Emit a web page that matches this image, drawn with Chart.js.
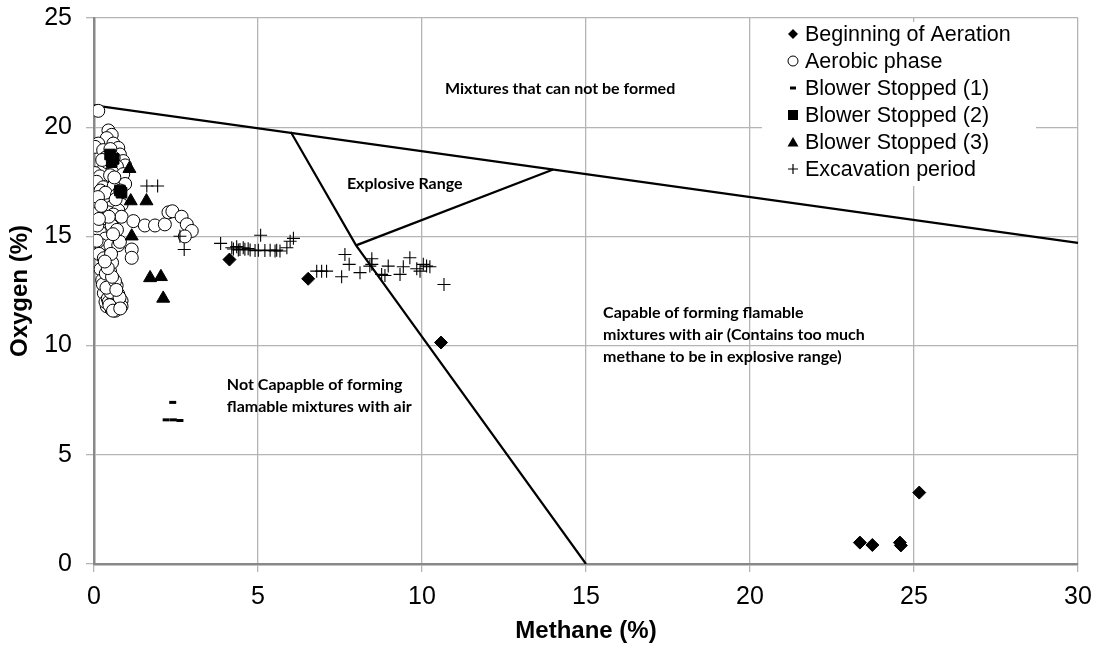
<!DOCTYPE html>
<html lang="en">
<head>
<meta charset="UTF-8">
<title>Oxygen vs Methane</title>
<script src="https://cdn.jsdelivr.net/npm/chart.js"></script>
<style>
  html, body { margin: 0; padding: 0; background: #fff; }
  #wrap { width: 1094px; height: 647px; }
</style>
</head>
<body>
<div id="wrap"><canvas id="c" width="1094" height="647"></canvas></div>
<script>
// ---- data (methane %, oxygen %) ----
const seriesNames = ['Beginning of Aeration', 'Aerobic phase', 'Blower Stopped (1)',
                     'Blower Stopped (2)', 'Blower Stopped (3)', 'Excavation period'];

const aerationX = [4.13, 6.53, 10.58, 23.35, 23.73, 24.57, 24.6, 25.16];
const aerationY = [13.94, 13.06, 10.14, 0.98, 0.87, 0.98, 0.85, 3.27];

const aerobicX = [0.13,
  0.44, 0.54, 0.39, 0.13, 0.03, 0.28, 0.59, 0.74, 0.79, 0.89, 0.95, 0.5, 0.35, 0.6, 0.45, 0.7, 0.3, 0.55,
  0.03, 0.18, 0.08, 0.28, 0.13, 0.49, 0.69, 0.89, 0.95, 0.39, 0.08, 0.54, 0.84, 0.74, 0.2, 0.6, 0.35, 0.7, 0.05,
  0.13, 0.44, 0.59, 0.23, 0.54, 0.18, 0.34, 0.23, 0.39, 0.28, 0.44, 0.34, 0.49, 0.34, 0.59, 0.39, 0.69, 0.44,
  0.74, 0.49, 0.84, 0.59, 0.39, 0.74, 0.54, 0.84, 0.1, 0.08, 0.15, 0.2, 0.25, 0.3, 0.35, 0.65, 0.5, 0.55, 0.6,
  0.84, 1.2, 1.55, 1.86, 2.16, 2.27, 2.39, 2.67, 2.83, 2.98, 2.77,
  0.74, 1.15, 1.15, 0.79,
  0.62, 0.8, 0.4, 0.25, 0.66, 0.45, 0.15, 0.7, 0.58, 0.3, 0.48, 0.62, 0.42, 0.27, 0.56, 0.68, 0.36, 0.52,
  0.45, 0.6, 0.72, 0.5, 0.38, 0.64, 0.78, 0.55, 0.42, 0.68, 0.33, 0.47, 0.58, 0.8, 0.12, 0.22];
const aerobicY = [20.75,
  19.85, 19.65, 19.5, 19.25, 19.1, 18.95, 19.25, 19.05, 18.75, 18.45, 18.25, 19.0, 18.6, 18.6, 18.3, 18.2, 18.1, 17.95,
  17.9, 17.75, 17.5, 17.25, 16.95, 17.8, 17.6, 17.85, 17.4, 16.65, 16.5, 16.35, 16.45, 16.2, 17.1, 17.3, 17.0, 16.9, 16.2,
  16.55, 16.1, 16.0, 15.8, 15.5, 15.2, 14.9, 14.6, 14.35, 14.1, 13.9, 13.65, 13.4, 13.2, 13.05, 12.9, 12.75, 12.6,
  12.35, 12.2, 12.05, 11.9, 11.8, 11.75, 11.65, 11.8, 15.5, 14.8, 14.2, 13.5, 13.0, 12.4, 12.0, 11.6, 14.6, 13.8, 12.5,
  15.9, 15.7, 15.5, 15.5, 15.55, 16.1, 16.15, 15.9, 15.55, 15.25, 15.0,
  14.6, 14.4, 14.02, 14.75,
  17.7, 17.1, 18.4, 18.5, 16.7, 15.9, 15.8, 15.3, 15.1, 14.0, 13.1, 12.25, 12.15, 12.8, 11.7, 11.95, 13.3, 14.2,
  12.0, 12.1, 11.9, 12.45, 12.65, 12.95, 12.2, 13.15, 13.55, 12.55, 13.85, 11.85, 11.6, 11.7, 16.8, 16.4];

const blower1X = [2.4, 2.2, 2.42, 2.62];
const blower1Y = [7.4, 6.6, 6.6, 6.57];

const blower2X = [0.49, 0.54, 0.6, 0.79, 0.84];
const blower2Y = [18.75, 18.4, 18.55, 17.1, 17.0];

const blower3X = [1.08, 1.12, 1.6, 1.15, 1.71, 2.04, 2.11];
const blower3Y = [18.1, 16.62, 16.62, 15.01, 13.1, 13.15, 12.16];

const excavX = [1.61, 1.94, 2.62, 2.75,
  3.86, 4.2, 4.35, 4.45, 4.55, 4.7, 5.08, 5.01, 5.37, 5.57, 5.67, 5.88, 5.98, 6.08,
  4.25, 4.4, 4.6, 4.76, 4.91, 5.21, 5.52,
  6.79, 6.94, 7.09, 7.55, 7.65, 7.78, 8.11, 8.47, 8.47, 8.41, 8.77, 8.97, 8.87,
  9.33, 9.43, 9.63, 9.84, 9.94, 10.04, 10.14, 10.24, 10.67];
const excavY = [17.31, 17.31, 15.01, 14.4,
  14.68, 14.48, 14.53, 14.4, 14.48, 14.44, 15.05, 14.37, 14.37, 14.37, 14.33, 14.48, 14.78, 14.91,
  14.42, 14.38, 14.41, 14.38, 14.35, 14.35, 14.33,
  13.41, 13.41, 13.41, 13.15, 14.17, 13.72, 13.34, 13.98, 13.72, 13.64, 13.26, 13.64, 13.21,
  13.26, 13.61, 14.02, 13.52, 13.41, 13.72, 13.64, 13.61, 12.8];

// boundary lines of the flammability diagram
const airLineX = [0, 30];
const airLineY = [21, 14.7];
const lowerLimitX = [6.0, 7.99, 15];
const lowerLimitY = [19.78, 14.59, 0];
const upperLimitX = [7.99, 14];
const upperLimitY = [14.59, 18.06];

const xTicks = [0, 5, 10, 15, 20, 25, 30];
const yTicks = [0, 5, 10, 15, 20, 25];

// region labels: [x, y, text lines]
const notes = [
  [10.7, 21.74, ['Mixtures that can not be formed']],
  [7.71, 17.4, ['Explosive Range']],
  [15.52, 11.5, ['Capable of forming flamable', 'mixtures with air (Contains too much', 'methane to be in explosive range)']],
  [4.05, 8.2, ['Not Capapble of forming', 'flamable mixtures with air']]
];

function pts(xs, ys) {
  return xs.map((x, i) => ({ x: x, y: ys[i] }));
}

const SANS = "'Liberation Sans', Arial, sans-serif";

// legend drawn inside the plot, with its own white box
const legendPlugin = {
  id: 'boxLegend',
  afterDraw(chart) {
    const ctx = chart.ctx;
    ctx.save();
    ctx.fillStyle = '#fff';
    ctx.fillRect(762, 22, 274, 164);
    ctx.font = '21.5px ' + SANS;
    ctx.textBaseline = 'middle';
    ctx.fillStyle = '#000';
    ctx.strokeStyle = '#000';
    seriesNames.forEach((name, i) => {
      const y = 34 + i * 27;
      const mx = 793;
      ctx.beginPath();
      if (i === 0) {
        ctx.moveTo(mx, y - 5); ctx.lineTo(mx + 5, y); ctx.lineTo(mx, y + 5); ctx.lineTo(mx - 5, y);
        ctx.closePath(); ctx.fill();
      } else if (i === 1) {
        ctx.lineWidth = 1;
        ctx.arc(mx, y, 5, 0, Math.PI * 2); ctx.stroke();
      } else if (i === 2) {
        ctx.fillRect(mx - 3, y - 1.5, 6, 3);
      } else if (i === 3) {
        ctx.fillRect(mx - 5, y - 5, 10, 10);
      } else if (i === 4) {
        ctx.moveTo(mx, y - 5); ctx.lineTo(mx + 5.5, y + 4.5); ctx.lineTo(mx - 5.5, y + 4.5);
        ctx.closePath(); ctx.fill();
      } else {
        ctx.lineWidth = 1.2;
        ctx.moveTo(mx - 5, y); ctx.lineTo(mx + 5, y);
        ctx.moveTo(mx, y - 5); ctx.lineTo(mx, y + 5); ctx.stroke();
      }
      ctx.fillText(name, 805, y + 1);
    });
    ctx.restore();
  }
};

const notesPlugin = {
  id: 'regionNotes',
  afterDatasetsDraw(chart) {
    const ctx = chart.ctx;
    const xs = chart.scales.x, ys = chart.scales.y;
    ctx.save();
    ctx.font = "bold 16px Lato, 'Open Sans', sans-serif";
    ctx.fillStyle = '#000';
    ctx.textBaseline = 'middle';
    notes.forEach(n => {
      const px = xs.getPixelForValue(n[0]);
      const py = ys.getPixelForValue(n[1]);
      n[2].forEach((line, j) => ctx.fillText(line, px, py + j * 22));
    });
    ctx.restore();
  }
};

const lineStyle = { showLine: true, borderColor: '#000', borderWidth: 2.2, pointRadius: 0, fill: false, order: 10 };

new Chart(document.getElementById('c'), {
  type: 'scatter',
  data: {
    datasets: [
      { label: seriesNames[0], data: pts(aerationX, aerationY), pointStyle: 'rectRot', radius: 6.5,
        backgroundColor: '#000', borderColor: '#000', borderWidth: 1, order: 1 },
      { label: seriesNames[1], data: pts(aerobicX, aerobicY), pointStyle: 'circle', radius: 6.5,
        backgroundColor: '#fff', borderColor: '#000', borderWidth: 1, order: 5 },
      { label: seriesNames[2], data: pts(blower1X, blower1Y), pointStyle: 'line', radius: 3.5,
        borderColor: '#000', borderWidth: 3, order: 2 },
      { label: seriesNames[3], data: pts(blower2X, blower2Y), pointStyle: 'rect', radius: 7.5,
        backgroundColor: '#000', borderColor: '#000', borderWidth: 1, order: 2 },
      { label: seriesNames[4], data: pts(blower3X, blower3Y), pointStyle: 'triangle', radius: 7.5,
        backgroundColor: '#000', borderColor: '#000', borderWidth: 1, order: 2 },
      { label: seriesNames[5], data: pts(excavX, excavY), pointStyle: 'cross', radius: 6.5,
        borderColor: '#000', borderWidth: 1.1, order: 3 },
      Object.assign({ label: 'air', data: pts(airLineX, airLineY) }, lineStyle),
      Object.assign({ label: 'lower', data: pts(lowerLimitX, lowerLimitY) }, lineStyle),
      Object.assign({ label: 'upper', data: pts(upperLimitX, upperLimitY) }, lineStyle)
    ]
  },
  options: {
    responsive: false,
    animation: false,
    layout: { padding: { top: 18, right: 16, left: 0, bottom: 0 } },
    plugins: { legend: { display: false }, tooltip: { enabled: false } },
    scales: {
      x: {
        type: 'linear', min: 0, max: 30,
        afterBuildTicks: s => { s.ticks = xTicks.map(v => ({ value: v })); },
        afterFit: s => { s.height = 83; s.paddingLeft = 0; s.paddingRight = 0; },
        ticks: { color: '#000', font: { family: SANS, size: 25 }, padding: 10, maxRotation: 0 },
        grid: { color: '#b5b5b5', lineWidth: 1.3, tickLength: 8 },
        border: { color: '#888', width: 2.5 },
        title: { display: true, text: 'Methane (%)', color: '#000',
                 font: { family: SANS, size: 24, weight: 'bold' }, padding: { top: 0, bottom: 1 } }
      },
      y: {
        type: 'linear', min: 0, max: 25,
        afterBuildTicks: s => { s.ticks = yTicks.map(v => ({ value: v })); },
        afterFit: s => { s.width = 94; s.paddingTop = 0; s.paddingBottom = 0; },
        ticks: { color: '#000', font: { family: SANS, size: 25 }, padding: 14 },
        grid: { color: '#b5b5b5', lineWidth: 1.3, tickLength: 8 },
        border: { color: '#888', width: 2.5 },
        title: { display: true, text: 'Oxygen (%)', color: '#000',
                 font: { family: SANS, size: 24, weight: 'bold' }, padding: { top: 6, bottom: 0 } }
      }
    }
  },
  plugins: [notesPlugin, legendPlugin]
});
</script>
</body>
</html>
